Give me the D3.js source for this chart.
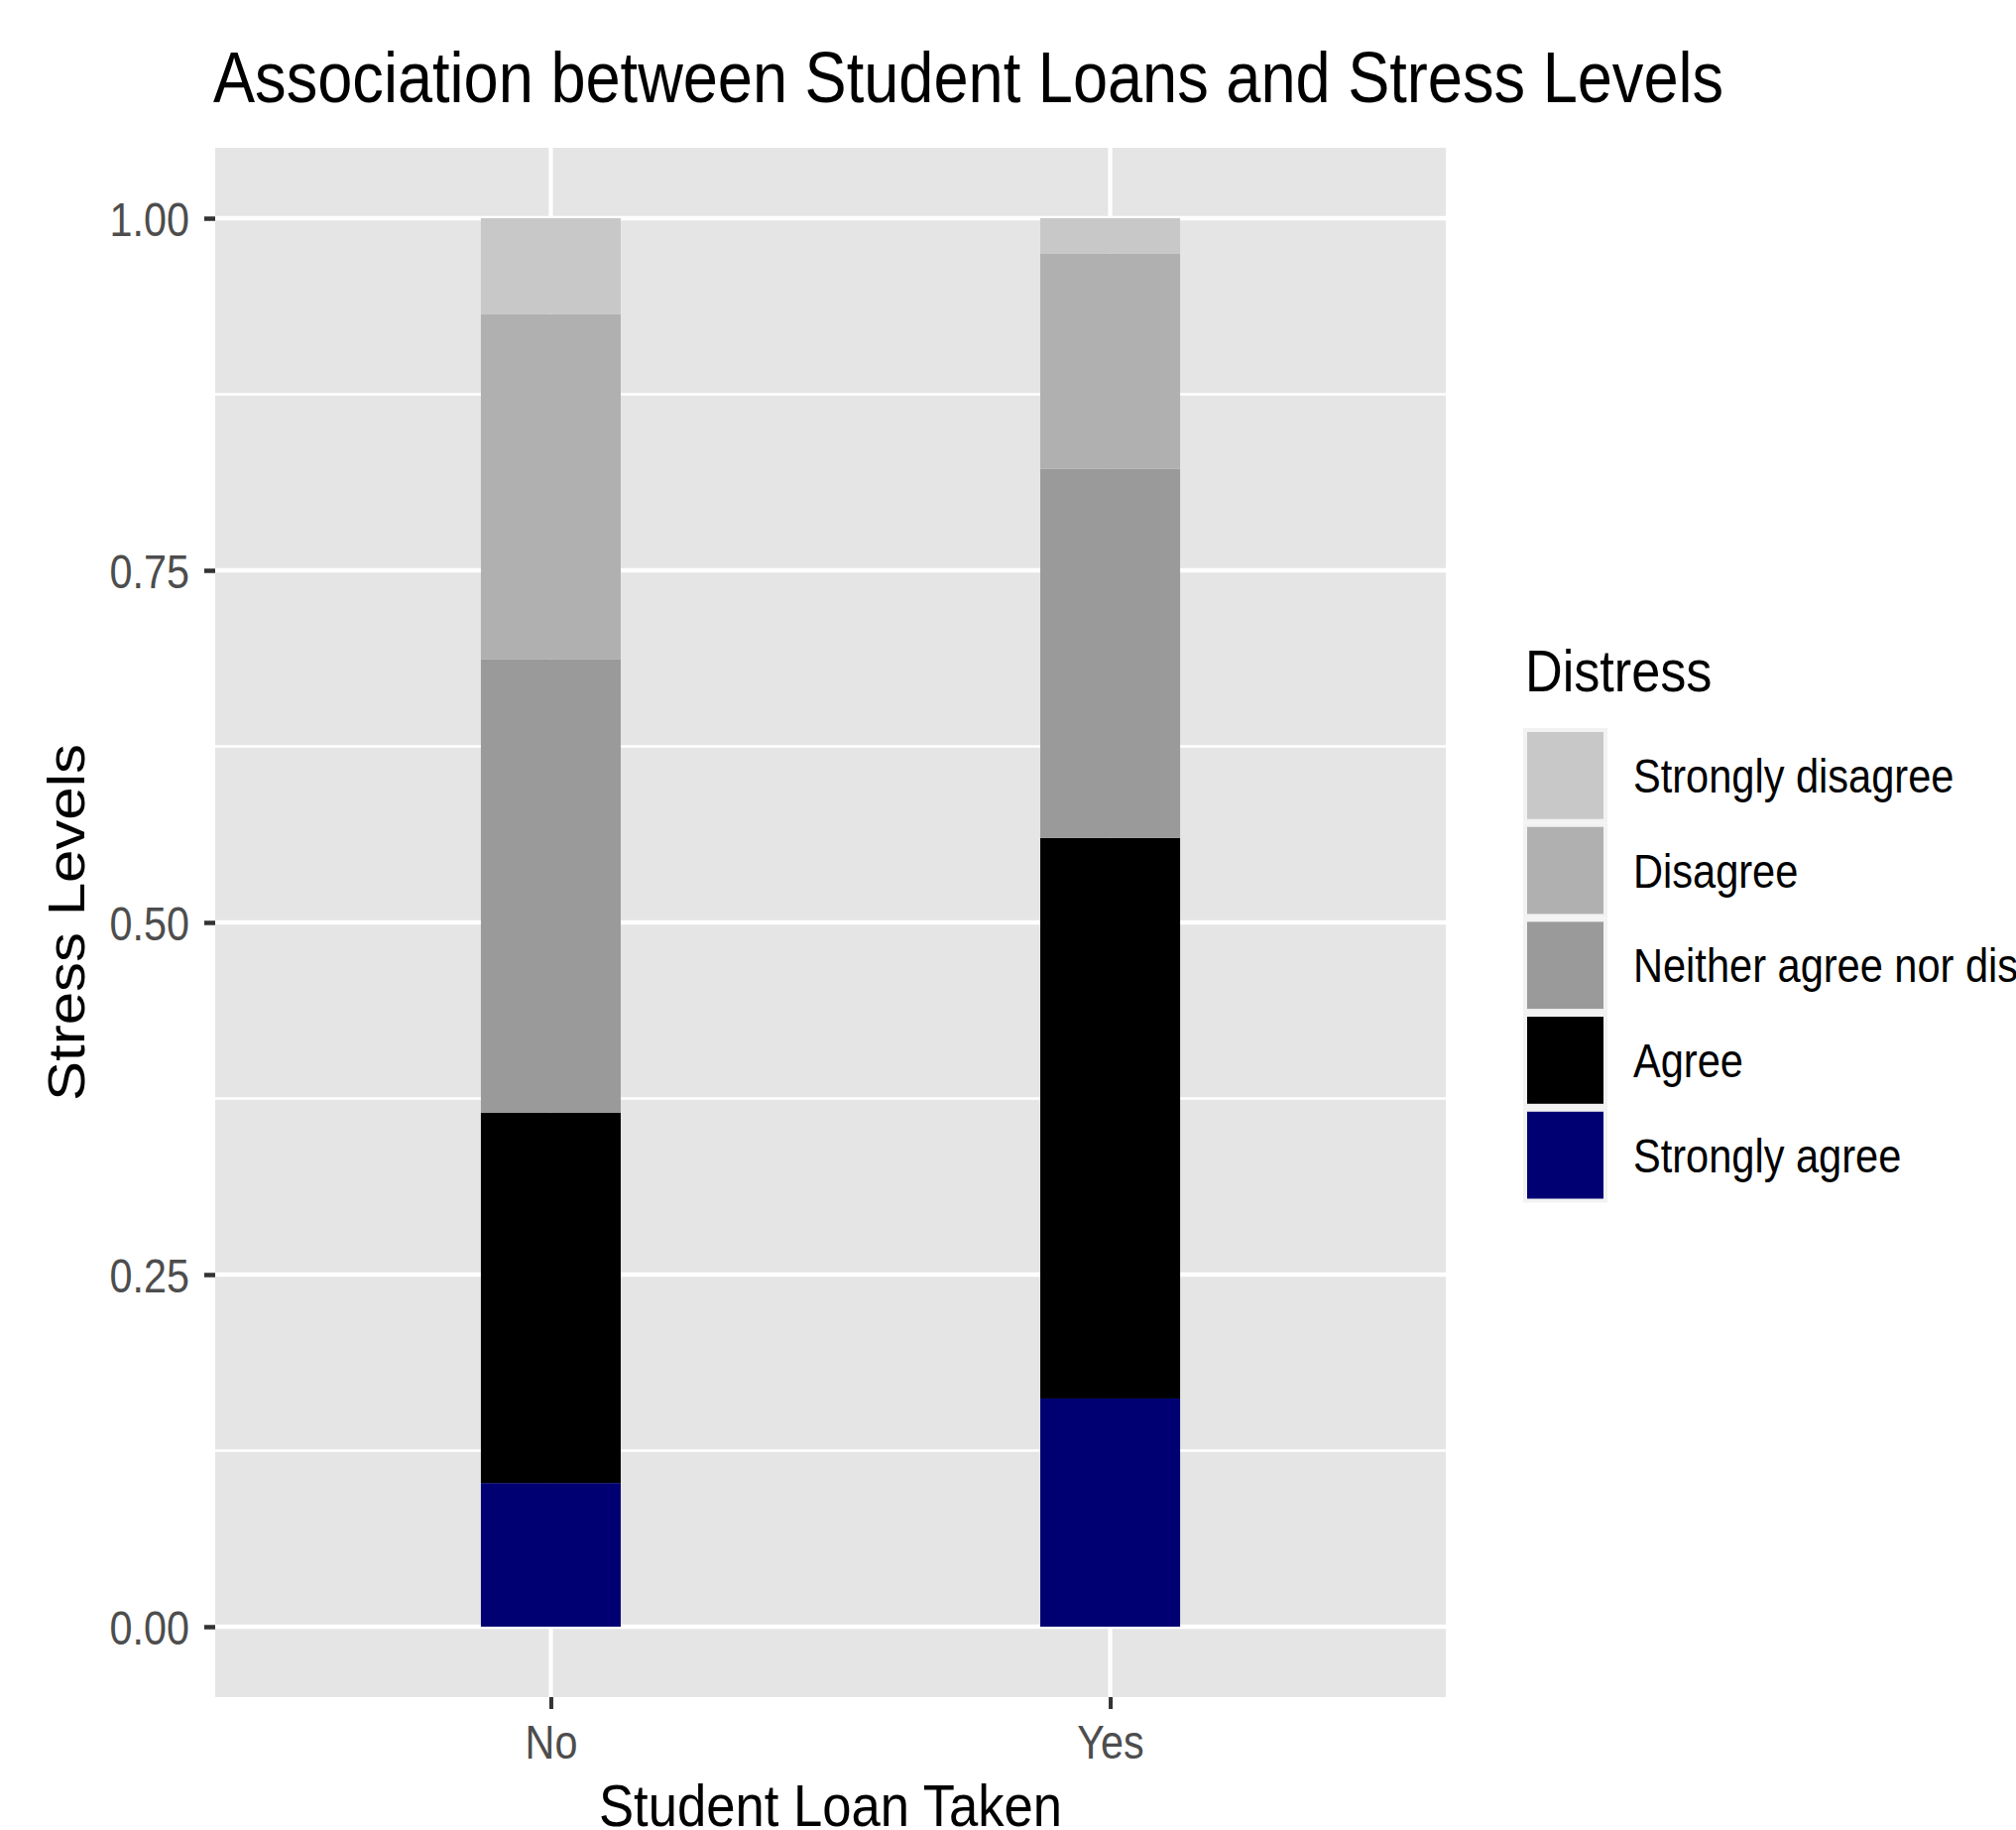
<!DOCTYPE html>
<html><head><meta charset="utf-8">
<script src="https://cdn.jsdelivr.net/npm/d3@7"></script>
<style>html,body{margin:0;padding:0;background:#fff;overflow:hidden}</style>
</head><body><svg id="chart" width="2033" height="1845"></svg>
<script>
// ---- data ----
const categories = ["No", "Yes"];
const levels = ["Strongly disagree", "Disagree", "Neither agree nor disagree", "Agree", "Strongly agree"];
const noShares  = [0.068, 0.245, 0.322, 0.263, 0.102];
const yesShares = [0.025, 0.153, 0.262, 0.398, 0.162];
const yTickValues  = [0, 0.25, 0.5, 0.75, 1];
const yMinorValues = [0.125, 0.375, 0.625, 0.875];
const levelColors = ["#c8c8c8", "#b0b0b0", "#9a9a9a", "#000000", "#000072"];
const titleText = "Association between Student Loans and Stress Levels";
const xTitle = "Student Loan Taken";
const yTitle = "Stress Levels";
const legendTitle = "Distress";

// ---- layout ----
const W = 2033, H = 1845;
const P = {left: 217, right: 1458, top: 149, bottom: 1711};
const SX = 0.87; // horizontal glyph compression seen in the reference
const SXT = 0.877;
const FONT = "'Liberation Sans', Arial, Helvetica, sans-serif";

const svg = d3.select("#chart");
svg.append("rect").attr("width", W).attr("height", H).attr("fill", "#fff");

const x = d3.scalePoint().domain(categories).range([P.left, P.right]).padding(0.6);
const y = d3.scaleLinear().domain([-0.05, 1.05]).range([P.bottom, P.top]);
const color = d3.scaleOrdinal().domain(levels).range(levelColors);
const barW = x.step() * 0.25;

// panel
svg.append("rect").attr("x", P.left).attr("y", P.top)
  .attr("width", P.right - P.left).attr("height", P.bottom - P.top).attr("fill", "#e5e5e5");

// grid
svg.append("g").selectAll("line").data(yMinorValues).join("line")
  .attr("x1", P.left).attr("x2", P.right).attr("y1", d => y(d)).attr("y2", d => y(d))
  .attr("stroke", "#fff").attr("stroke-width", 2.4);
svg.append("g").selectAll("line").data(yTickValues).join("line")
  .attr("x1", P.left).attr("x2", P.right).attr("y1", d => y(d)).attr("y2", d => y(d))
  .attr("stroke", "#fff").attr("stroke-width", 4.6);
svg.append("g").selectAll("line").data(categories).join("line")
  .attr("x1", d => x(d)).attr("x2", d => x(d)).attr("y1", P.top).attr("y2", P.bottom)
  .attr("stroke", "#fff").attr("stroke-width", 4.2);

// stacked bars
const rows = categories.map((c, i) => {
  const r = {cat: c};
  const vals = i === 0 ? noShares : yesShares;
  levels.forEach((l, j) => r[l] = vals[j]);
  return r;
});
const stack = d3.stack().keys(levels.slice().reverse());
const series = stack(rows);
svg.append("g").selectAll("g").data(series).join("g")
  .attr("fill", s => color(s.key))
  .selectAll("rect").data(s => s).join("rect")
  .attr("x", d => x(d.data.cat) - barW / 2)
  .attr("width", barW)
  .attr("y", d => y(d[1]))
  .attr("height", d => y(d[0]) - y(d[1]));

// axes
const yAxis = svg.append("g").attr("transform", `translate(${P.left},0)`)
  .call(d3.axisLeft(y).tickValues(yTickValues).tickSize(11).tickFormat(d3.format(".2f")));
yAxis.select(".domain").remove();
yAxis.selectAll(".tick line").attr("stroke", "#333").attr("stroke-width", 4.5);
yAxis.selectAll(".tick text")
  .attr("x", -26 / SX).attr("dy", "0.36em")
  .attr("transform", `scale(${SX},1)`)
  .attr("fill", "#4d4d4d").style("font-family", FONT).style("font-size", "47.5px");

const xAxis = svg.append("g").attr("transform", `translate(0,${P.bottom})`)
  .call(d3.axisBottom(x).tickSize(12));
xAxis.select(".domain").remove();
xAxis.selectAll(".tick line").attr("stroke", "#333").attr("stroke-width", 4);
xAxis.selectAll(".tick text")
  .attr("y", 62).attr("dy", 0).attr("x", 0)
  .attr("transform", `scale(${SX},1)`)
  .attr("fill", "#4d4d4d").style("font-family", FONT).style("font-size", "47.5px");

// helper for compressed text
function label(tx, ty, txt, size, anchor, fill, rot, sx) {
  const s = sx || SX;
  const g = svg.append("g").attr("transform", `translate(${tx},${ty}) scale(${s},1)` + (rot ? ` rotate(${rot})` : ""));
  return g.append("text").text(txt)
    .attr("text-anchor", anchor).attr("fill", fill)
    .style("font-family", FONT).style("font-size", size + "px");
}

label(215, 103, titleText, 72, "start", "#000", 0, SXT);
label((P.left + P.right) / 2, 1841, xTitle, 60, "middle", "#000", 0, SXT);
label(85, (P.top + P.bottom) / 2, yTitle, 60, "middle", "#000", -90);

// legend
label(1538, 697, legendTitle, 60, "start", "#000");
const keyTop = 734, keyPitch = 95.7, keyH = 95.7;
const lg = svg.append("g");
levels.forEach((l, i) => {
  const t = keyTop + i * keyPitch;
  lg.append("rect").attr("x", 1536).attr("y", t).attr("width", 85).attr("height", keyH).attr("fill", "#f2f2f2");
  lg.append("rect").attr("x", 1540).attr("y", t + 4).attr("width", 77).attr("height", keyH - 8).attr("fill", color(l));
  label(1647, t + keyH / 2, l, 47.5, "start", "#000", 0, 0.875).attr("dy", "0.36em");
});
</script></body></html>
